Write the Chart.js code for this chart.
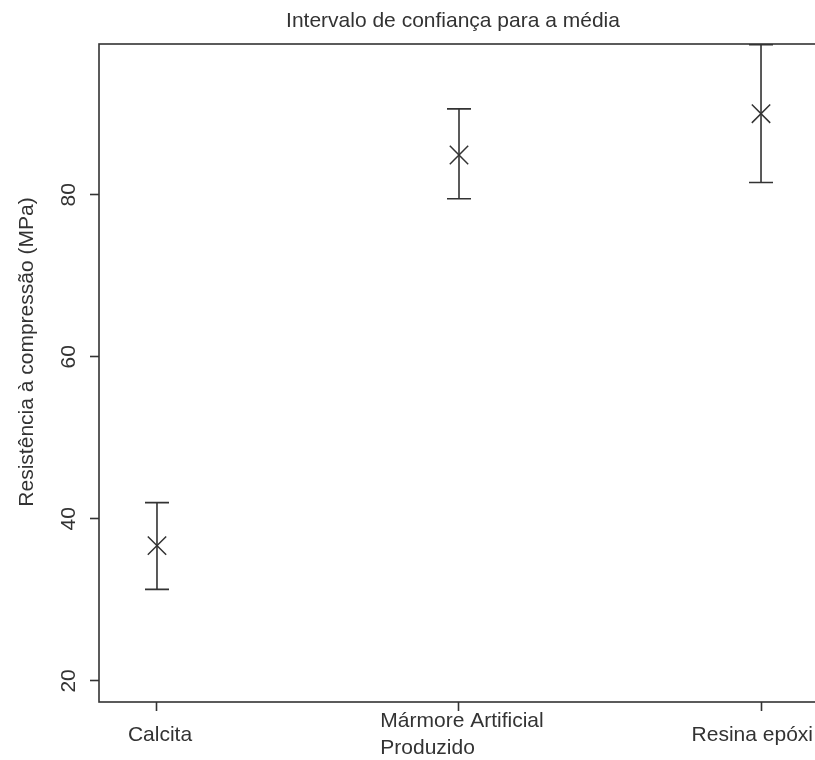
<!DOCTYPE html>
<html>
<head>
<meta charset="utf-8">
<script src="https://cdn.jsdelivr.net/npm/chart.js@4/dist/chart.umd.min.js"></script>
<style>
  html, body { margin: 0; padding: 0; background: #fff; overflow: hidden; width: 815px; height: 760px; }
  #wrap { width: 850px; height: 760px; }
</style>
</head>
<body>
<div id="wrap"><canvas id="c" width="850" height="760"></canvas></div>
<script>
const chartTitle = "Intervalo de confiança para a média";
const yAxisTitle = "Resistência à compressão (MPa)";
const categories = ["Calcita", ["Mármore Artificial", "Produzido"], "Resina epóxi"];
const categoryPositions = [1, 2, 3];
const means = [36.7, 84.9, 90.0];
const lowerCI = [31.3, 79.5, 81.5];
const upperCI = [42.0, 90.6, 98.5];
const yTicks = [20, 40, 60, 80];

const INK = "#333333";
const FONT = "'Liberation Sans', Arial, sans-serif";
const VISIBLE_RIGHT = 813;

const boxAndText = {
  id: "boxAndText",
  afterDatasetsDraw(chart) {
    const ctx = chart.ctx;
    const a = chart.chartArea;
    const xs = chart.scales.x, ys = chart.scales.y;
    ctx.save();
    ctx.strokeStyle = INK;
    ctx.lineWidth = 1.6;
    for (let i = 0; i < means.length; i++) {
      const x = xs.getPixelForValue(categoryPositions[i]);
      const yl = ys.getPixelForValue(lowerCI[i]);
      const yh = ys.getPixelForValue(upperCI[i]);
      ctx.beginPath();
      ctx.moveTo(x, yl); ctx.lineTo(x, yh);
      ctx.moveTo(x - 12, yl); ctx.lineTo(x + 12, yl);
      ctx.moveTo(x - 12, yh); ctx.lineTo(x + 12, yh);
      ctx.stroke();
    }
    ctx.strokeRect(a.left, a.top, a.right - a.left, a.bottom - a.top);
    ctx.fillStyle = INK;
    ctx.font = "21px " + FONT;
    ctx.textAlign = "center";
    ctx.textBaseline = "middle";
    ctx.fillText(chartTitle, 453, 21);
    ctx.save();
    ctx.translate(27, 352);
    ctx.rotate(-Math.PI / 2);
    ctx.fillText(yAxisTitle, 0, 0);
    ctx.restore();
    yTicks.forEach(v => {
      const y = ys.getPixelForValue(v);
      ctx.save();
      ctx.translate(69, y);
      ctx.rotate(-Math.PI / 2);
      ctx.textAlign = "center";
      ctx.fillText(String(v), 0, 0);
      ctx.restore();
    });
    categories.forEach((lab, i) => {
      const lines = Array.isArray(lab) ? lab : [lab];
      const x = xs.getPixelForValue(categoryPositions[i]);
      const lh = 27;
      const y0 = 735 - (lines.length - 1) * lh / 2;
      const w = Math.max(...lines.map(l => ctx.measureText(l).width));
      let left = x - w / 2 + 3;
      if (left + w > VISIBLE_RIGHT) left = VISIBLE_RIGHT - w;
      ctx.textAlign = "left";
      lines.forEach((l, k) => ctx.fillText(l, left, y0 + k * lh));
    });
    ctx.restore();
  }
};

new Chart(document.getElementById("c"), {
  type: "scatter",
  data: {
    datasets: [{
      data: categoryPositions.map((x, i) => ({ x: x, y: means[i] })),
      pointStyle: "crossRot",
      pointRadius: 13,
      pointHoverRadius: 13,
      borderColor: INK,
      backgroundColor: INK,
      pointBorderWidth: 1.5,
      showLine: false
    }]
  },
  plugins: [boxAndText],
  options: {
    responsive: false,
    animation: false,
    devicePixelRatio: 1,
    layout: { padding: { left: 0, top: 44, right: 31, bottom: 0 } },
    plugins: { legend: { display: false }, title: { display: false }, tooltip: { enabled: false } },
    scales: {
      x: {
        type: "linear",
        min: 0.808, max: 3.192,
        afterBuildTicks: s => { s.ticks = categoryPositions.map(v => ({ value: v })); },
        afterFit: s => { s.height = 58; },
        ticks: { display: false },
        border: { display: false },
        grid: { drawOnChartArea: false, drawTicks: true, tickLength: 9, tickWidth: 1.6, tickColor: INK }
      },
      y: {
        min: 17.4, max: 98.6,
        afterBuildTicks: s => { s.ticks = yTicks.map(v => ({ value: v })); },
        afterFit: s => { s.width = 99; },
        ticks: { display: false },
        border: { display: false },
        grid: { drawOnChartArea: false, drawTicks: true, tickLength: 9, tickWidth: 1.6, tickColor: INK }
      }
    }
  }
});
</script>
</body>
</html>
